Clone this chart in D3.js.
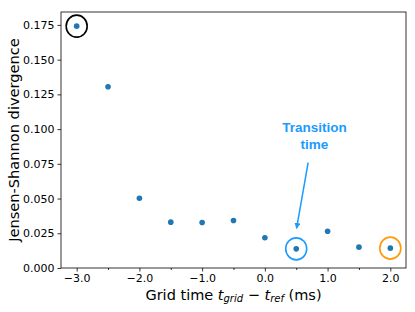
<!DOCTYPE html>
<html>
<head>
<meta charset="utf-8">
<script src="https://cdn.jsdelivr.net/npm/d3@7"></script>
<style>
  body { margin: 0; background: #fff; }
  text { font-family: "DejaVu Sans", sans-serif; }
</style>
</head>
<body>
<div class="chart"></div>
<script>
const gridTimes = [-3.0, -2.5, -2.0, -1.5, -1.0, -0.5, 0.0, 0.5, 1.0, 1.5, 2.0];
const jsDiv = [0.1741, 0.1305, 0.0502, 0.0330, 0.0328, 0.0342, 0.0218, 0.0138, 0.0265, 0.0150, 0.0143];
const xTicks = [-3, -2, -1, 0, 1, 2];
const xMinorTicks = [-2.5, -1.5, -0.5, 0.5, 1.5];
const yTicks = [0, 0.025, 0.05, 0.075, 0.1, 0.125, 0.15, 0.175];
// highlighted points: [x, y, colour]
const highlights = [
  [-3.0, 0.1741, '#000000'],
  [0.5, 0.0138, '#1a9bff'],
  [2.0, 0.0143, '#ff9a0a']
];

const w = 415;
const h = 312;
const margin = {left: 61, right: 9, top: 12, bottom: 44};

const svg = d3.select('.chart')
  .append('svg')
  .attr('width', w)
  .attr('height', h);

const x = d3.scaleLinear()
  .domain([-3.25, 2.25])
  .range([margin.left, w - margin.right]);

const y = d3.scaleLinear()
  .domain([0, 0.1843])
  .range([h - margin.bottom, margin.top]);

const xAxis = d3.axisBottom(x).tickValues(xTicks).tickFormat(d3.format('.1f')).tickSize(3.5).tickPadding(3);
const xMinor = d3.axisBottom(x).tickValues(xMinorTicks).tickFormat('').tickSize(2);
const yAxis = d3.axisLeft(y).tickValues(yTicks).tickFormat(d3.format('.3f')).tickSize(3.5).tickPadding(3);

svg.append('g')
  .attr('transform', 'translate(0,' + (h - margin.bottom) + ')')
  .call(xAxis);
svg.append('g')
  .attr('transform', 'translate(0,' + (h - margin.bottom) + ')')
  .call(xMinor);
svg.append('g')
  .attr('transform', 'translate(' + margin.left + ',0)')
  .call(yAxis);

svg.selectAll('.tick text')
  .style('font-family', '"DejaVu Sans"')
  .style('font-size', '11px')
  .attr('fill', '#000');
svg.selectAll('.tick line').attr('stroke', '#000').attr('stroke-width', 0.8);
svg.selectAll('.domain').remove();

// frame
svg.append('rect')
  .attr('x', margin.left)
  .attr('y', margin.top)
  .attr('width', w - margin.left - margin.right)
  .attr('height', h - margin.top - margin.bottom)
  .attr('fill', 'none')
  .attr('stroke', '#000')
  .attr('stroke-width', 0.8);

svg.selectAll('circle.dot')
  .data(gridTimes)
  .enter()
  .append('circle')
  .attr('class', 'dot')
  .attr('r', 2.8)
  .attr('cx', (d) => x(d))
  .attr('cy', (d, i) => y(jsDiv[i]))
  .attr('fill', '#1f77b4');

svg.selectAll('ellipse.hl')
  .data(highlights)
  .enter()
  .append('ellipse')
  .attr('class', 'hl')
  .attr('cx', (d) => x(d[0]))
  .attr('cy', (d) => y(d[1]))
  .attr('rx', 10.5)
  .attr('ry', 11)
  .attr('fill', 'none')
  .attr('stroke', (d) => d[2])
  .attr('stroke-width', 1.6);

// annotation
const defs = svg.append('defs');
defs.append('marker')
  .attr('id', 'arrow')
  .attr('viewBox', '0 0 10 10')
  .attr('refX', 9)
  .attr('refY', 5)
  .attr('markerWidth', 6)
  .attr('markerHeight', 6)
  .attr('markerUnits', 'userSpaceOnUse')
  .attr('orient', 'auto')
  .append('path')
  .attr('d', 'M0,0 L10,5 L0,10 z')
  .attr('fill', '#1a9bff');

svg.append('line')
  .attr('x1', x(0.69))
  .attr('y1', y(0.0758))
  .attr('x2', x(0.505))
  .attr('y2', y(0.0285))
  .attr('stroke', '#1a9bff')
  .attr('stroke-width', 1.5)
  .attr('marker-end', 'url(#arrow)');

const ann = svg.append('text')
  .attr('text-anchor', 'middle')
  .attr('fill', '#1a9bff')
  .style('font-family', '"Liberation Sans", Arial, sans-serif')
  .style('font-weight', 'bold')
  .style('font-size', '13.5px');
ann.append('tspan').attr('x', x(0.79)).attr('y', 131.5).text('Transition');
ann.append('tspan').attr('x', x(0.79)).attr('y', 149).text('time');

// axis labels
svg.append('text')
  .attr('transform', 'translate(18.5,' + ((margin.top + h - margin.bottom) / 2) + ') rotate(-90)')
  .attr('text-anchor', 'middle')
  .style('font-size', '14.6px')
  .text('Jensen-Shannon divergence');

const xl = svg.append('text')
  .attr('x', (margin.left + w - margin.right) / 2)
  .attr('y', 299.5)
  .attr('text-anchor', 'middle')
  .style('font-size', '14.5px');
xl.append('tspan').text('Grid time ');
xl.append('tspan').style('font-style', 'italic').text('t');
xl.append('tspan').style('font-style', 'italic').style('font-size', '10px').attr('dy', 2.5).text('grid');
xl.append('tspan').attr('dy', -2.5).text(' − ');
xl.append('tspan').style('font-style', 'italic').text('t');
xl.append('tspan').style('font-style', 'italic').style('font-size', '10px').attr('dy', 2.5).text('ref');
xl.append('tspan').attr('dy', -2.5).text(' (ms)');
</script>
</body>
</html>
